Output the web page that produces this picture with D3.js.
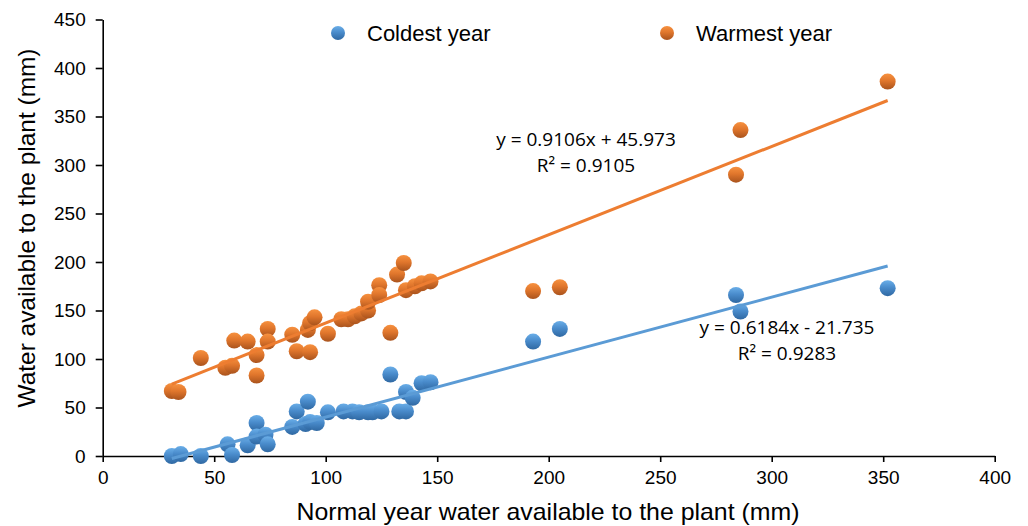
<!DOCTYPE html>
<html><head><meta charset="utf-8">
<script src="https://cdn.jsdelivr.net/npm/d3@7"></script>
<style>body{margin:0;background:#fff}svg{display:block}</style>
</head><body><svg id="c" width="1028" height="526"></svg>
<script>
const coldX = [31,35,44,56,58,65,69,69,73,74,85,87,92,91,93,96,101,108,112,115,119,121,125,129,133,136,136,139,143,147,193,205,284,286,352];
const coldY = [0,2,0,12,1,11,34,20,22,12,30,46,56,33,35,34,45,46,46,45,45,45,46,84,46,46,66,60,75,76,118,131,166,149,173];
const warmX = [31,34,44,55,58,59,65,69,69,74,74,85,87,93,92,93,95,101,107,110,113,116,119,119,124,124,129,132,135,136,140,143,147,193,205,284,286,352];
const warmY = [67,66,101,91,93,119,118,104,83,131,118,125,108,107,130,137,143,126,141,141,144,147,150,159,176,166,127,187,199,171,175,178,180,170,174,290,336,386];
const xTicks = [0,50,100,150,200,250,300,350,400];
const yTicks = [0,50,100,150,200,250,300,350,400,450];
const seriesNames = ["Coldest year","Warmest year"];
const trendCold = {m:0.6184, b:-21.735, label:"y = 0.6184x - 21.735", r2:"R² = 0.9283"};
const trendWarm = {m:0.9106, b:45.973, label:"y = 0.9106x + 45.973", r2:"R² = 0.9105"};

const svg = d3.select("#c");
const x = d3.scaleLinear().domain([0,400]).range([102.7,994.7]);
const y = d3.scaleLinear().domain([0,450]).range([456,19.5]);
const sans = "'Liberation Sans',Arial,sans-serif";

const defs = svg.append("defs");
function grad(id, top, mid, bot){
  const g = defs.append("linearGradient").attr("id",id).attr("x1",0).attr("y1",0).attr("x2",0).attr("y2",1);
  g.append("stop").attr("offset","0%").attr("stop-color",top);
  g.append("stop").attr("offset","45%").attr("stop-color",mid);
  g.append("stop").attr("offset","100%").attr("stop-color",bot);
}
grad("gCold","#6aaee8","#4a8ccc","#2f68a2");
grad("gWarm","#f7913f","#e0762c","#a9531d");

// axes
const xAxis = svg.append("g").attr("transform","translate(0,456)")
  .call(d3.axisBottom(x).tickValues(xTicks).tickSize(6).tickSizeOuter(0).tickPadding(9));
const yAxis = svg.append("g").attr("transform","translate(102.7,0)")
  .call(d3.axisLeft(y).tickValues(yTicks).tickSize(7).tickSizeOuter(0).tickPadding(10));
[xAxis,yAxis].forEach(a=>{
  a.selectAll("path,line").attr("stroke","#000").attr("stroke-width",1.6);
  a.selectAll("text").attr("font-family",sans).attr("font-size",19).attr("fill","#000");
});

// trend lines
function trend(t, xs, color){
  const x0 = d3.min(xs), x1 = d3.max(xs);
  svg.append("line").attr("x1",x(x0)).attr("y1",y(t.m*x0+t.b)).attr("x2",x(x1)).attr("y2",y(t.m*x1+t.b))
    .attr("stroke",color).attr("stroke-width",3);
}
function points(xs, ys, fill){
  svg.append("g").selectAll("circle").data(xs.map((v,i)=>[v,ys[i]])).join("circle")
    .attr("cx",d=>x(d[0])).attr("cy",d=>y(d[1])).attr("r",8).attr("fill",fill);
}
points(warmX, warmY, "url(#gWarm)");
points(coldX, coldY, "url(#gCold)");
trend(trendWarm, warmX, "#ed7d31");
trend(trendCold, coldX, "#5b9bd5");

// equations
const eqFont = "'Open Sans',Lato,sans-serif";
function eq(t, cx, cy){
  svg.append("text").attr("x",cx).attr("y",cy).attr("text-anchor","middle")
    .attr("font-family",eqFont).attr("font-size",19).attr("fill","#000").text(t.label);
  svg.append("text").attr("x",cx).attr("y",cy+26).attr("text-anchor","middle")
    .attr("font-family",eqFont).attr("font-size",19).attr("fill","#000").text(t.r2);
}
eq(trendWarm, 586, 146);
eq(trendCold, 787, 334);

// legend
const leg = [{name:seriesNames[0], fill:"url(#gCold)", x:338},{name:seriesNames[1], fill:"url(#gWarm)", x:667}];
leg.forEach(l=>{
  svg.append("circle").attr("cx",l.x).attr("cy",33).attr("r",7).attr("fill",l.fill);
  svg.append("text").attr("x",l.x+29).attr("y",41).attr("font-family",sans).attr("font-size",22).attr("fill","#000").text(l.name);
});

// axis titles
svg.append("text").attr("x",548).attr("y",520).attr("text-anchor","middle")
  .attr("font-family",sans).attr("font-size",24).attr("fill","#000")
  .attr("textLength",503).attr("lengthAdjust","spacingAndGlyphs")
  .text("Normal year water available to the plant (mm)");
svg.append("text").attr("transform","translate(35,228) rotate(-90)").attr("text-anchor","middle")
  .attr("font-family",sans).attr("font-size",24).attr("fill","#000")
  .attr("textLength",359).attr("lengthAdjust","spacingAndGlyphs")
  .text("Water available to the plant (mm)");
</script></body></html>
